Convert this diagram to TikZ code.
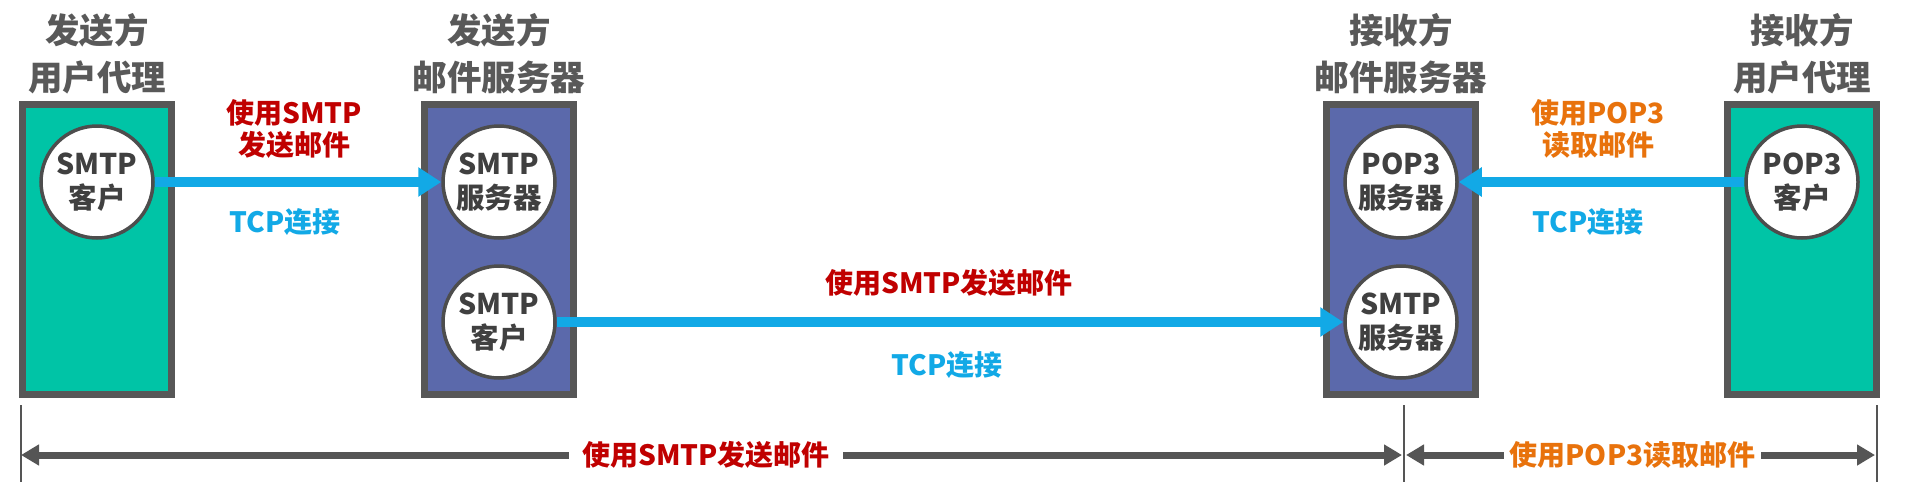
\documentclass[tikz,border=0pt]{standalone}
\usepackage{fontspec}
\setmainfont{Noto Sans CJK SC}
\usetikzlibrary{arrows.meta}
\definecolor{uateal}{HTML}{00C4A6}
\definecolor{srvblue}{HTML}{5B69AB}
\definecolor{bordergray}{HTML}{575757}
\definecolor{circgray}{HTML}{4D4D4D}
\definecolor{circtext}{HTML}{404040}
\definecolor{headgray}{HTML}{595959}
\definecolor{tcpblue}{HTML}{12A9E6}
\definecolor{mailred}{HTML}{C00000}
\definecolor{poporange}{HTML}{E8720C}
\definecolor{dimgray}{HTML}{555555}
\begin{document}
\begin{tikzpicture}[x=1pt,y=-1pt,
  uabox/.style={draw=bordergray, line width=7pt, fill=uateal, minimum width=149pt, minimum height=290pt, inner sep=0pt},
  srvbox/.style={uabox, fill=srvblue},
  proc/.style={circle, draw=circgray, line width=3.5pt, fill=white, minimum size=112pt, inner sep=0pt, align=center, text=circtext, font=\fontsize{28.5}{34}\selectfont\bfseries},
  head/.style={align=center, inner sep=0pt, text=headgray, font=\fontsize{34.5}{47}\selectfont\bfseries},
  lbl/.style={align=center, inner sep=0pt, font=\fontsize{28}{32}\selectfont\bfseries},
  conn/.style={draw=tcpblue, line width=10pt, -{Triangle[length=23pt,width=28pt]}},
  dimarrow/.style={draw=dimgray, line width=7pt, -{Triangle[length=18pt,width=20pt]}},
  dimtick/.style={draw=dimgray, line width=2pt},
  dimtext/.style={inner sep=0pt, font=\fontsize{28}{32}\selectfont\bfseries}
]
\fill[white] (0,0) rectangle (1910,496);
\useasboundingbox (0,0) rectangle (1910,496);

% headings
\node[head] (h1) at (97,53.5) {发送方\\用户代理};
\node[head] (h2) at (499,53.5) {发送方\\邮件服务器};
\node[head] (h3) at (1401,53.5) {接收方\\邮件服务器};
\node[head] (h4) at (1802,53.5) {接收方\\用户代理};

% boxes
\node[uabox] (b1) at (97,249.5) {};
\node[srvbox] (b2) at (499,249.5) {};
\node[srvbox] (b3) at (1401,249.5) {};
\node[uabox] (b4) at (1802,249.5) {};

% circles
\node[proc] (c1) at (97,182) {SMTP\\客户};
\node[proc] (c2a) at (499,182) {SMTP\\服务器};
\node[proc] (c2b) at (499,322) {SMTP\\客户};
\node[proc] (c3a) at (1401,182) {POP3\\服务器};
\node[proc] (c3b) at (1401,322) {SMTP\\服务器};
\node[proc] (c4) at (1802,182) {POP3\\客户};

% connections
\draw[conn] (c1.east) -- (c2a.west);
\draw[conn] (c2b.east) -- (c3b.west);
\draw[conn] (c4.west) -- (c3a.east);

% labels
\node[lbl, text=mailred] (l1) at (294,129) {使用SMTP\\发送邮件};
\node[lbl, text=tcpblue] (t1) at (285,222) {TCP连接};
\node[lbl, text=mailred] (l2) at (949,283) {使用SMTP发送邮件};
\node[lbl, text=tcpblue] (t2) at (947,365) {TCP连接};
\node[lbl, text=poporange] (l3) at (1598,129) {使用POP3\\读取邮件};
\node[lbl, text=tcpblue] (t3) at (1588,222) {TCP连接};

% dimension lines
\draw[dimtick] (21,405) -- (21,482);
\draw[dimtick] (1404,405) -- (1404,482);
\draw[dimtick] (1877,405) -- (1877,482);
\coordinate (dA) at (21,455);
\coordinate (dB) at (1402,455);
\coordinate (dC) at (1406,455);
\coordinate (dD) at (1875,455);
\node[dimtext, text=mailred, minimum width=274pt] (ds) at (706,455) {使用SMTP发送邮件};
\node[dimtext, text=poporange, minimum width=257pt] (dp) at (1632.5,455) {使用POP3读取邮件};
\draw[dimarrow] (ds.west) -- (dA);
\draw[dimarrow] (ds.east) -- (dB);
\draw[dimarrow] (dp.west) -- (dC);
\draw[dimarrow] (dp.east) -- (dD);
\end{tikzpicture}
\end{document}
